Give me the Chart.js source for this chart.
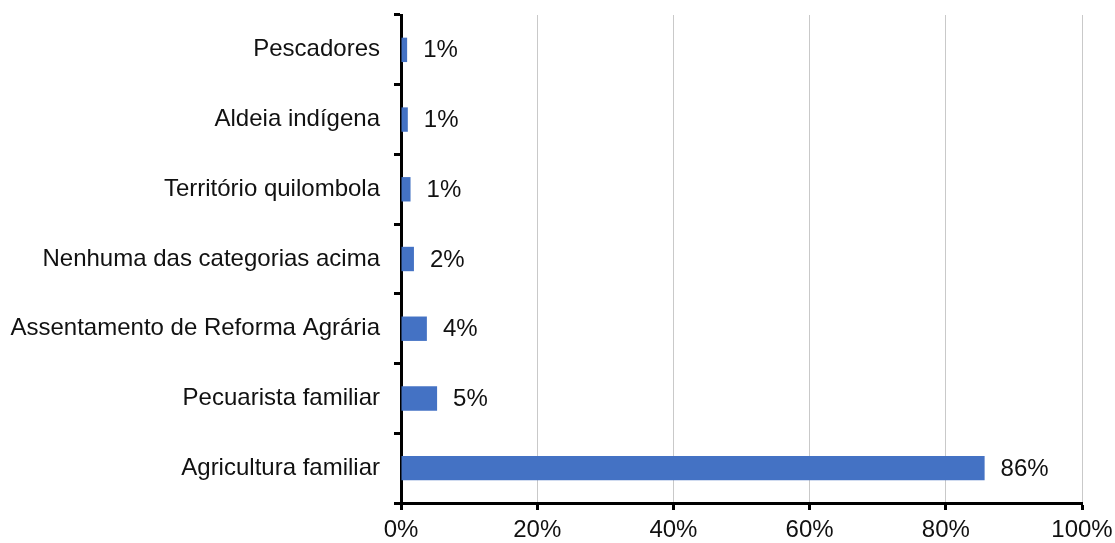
<!DOCTYPE html>
<html>
<head>
<meta charset="utf-8">
<script src="https://cdn.jsdelivr.net/npm/chart.js@4/dist/chart.umd.min.js"></script>
<style>
  html, body { margin: 0; padding: 0; background: #fff; }
  #wrap { width: 1115px; height: 543px; }
</style>
</head>
<body>
<div id="wrap"><canvas id="myChart" width="1115" height="543"></canvas></div>
<script>
// categories top to bottom
var categorias = [
  "Pescadores",
  "Aldeia indígena",
  "Território quilombola",
  "Nenhuma das categorias acima",
  "Assentamento de Reforma Agrária",
  "Pecuarista familiar",
  "Agricultura familiar"
];
var percentuais = [0.9, 1.0, 1.4, 1.9, 3.8, 5.3, 85.7];
var rotulos = ["1%", "1%", "1%", "2%", "4%", "5%", "86%"];
var ticksX = [0, 20, 40, 60, 80, 100];

var fonte = "'Liberation Sans', Arial, sans-serif";

// draws the % label next to each bar
var rotuloPlugin = {
  id: "rotulos",
  afterDatasetsDraw: function(chart) {
    var ctx = chart.ctx;
    var meta = chart.getDatasetMeta(0);
    ctx.save();
    ctx.font = "24px " + fonte;
    ctx.fillStyle = "#111";
    ctx.textBaseline = "middle";
    ctx.textAlign = "left";
    meta.data.forEach(function(bar, i) {
      ctx.fillText(rotulos[i], bar.x + 16, bar.y + 1);
    });
    ctx.restore();
  }
};

var ctx = document.getElementById("myChart");
var myChart = new Chart(ctx, {
  type: "bar",
  data: {
    labels: categorias,
    datasets: [
      {
        data: percentuais,
        backgroundColor: "#4472c4",
        barPercentage: 0.35,
        categoryPercentage: 1.0
      }
    ]
  },
  options: {
    indexAxis: "y",
    responsive: false,
    animation: false,
    layout: { padding: { top: 15, right: 33, left: 0, bottom: 0 } },
    plugins: { legend: { display: false }, tooltip: { enabled: false } },
    scales: {
      x: {
        min: 0,
        max: 100,
        afterBuildTicks: function(scale) {
          scale.ticks = ticksX.map(function(v) { return { value: v }; });
        },
        afterFit: function(scale) {
          scale.height = 40;
          scale.paddingLeft = 0;
          scale.paddingRight = 0;
        },
        grid: {
          color: "#c9c9c9",
          lineWidth: 1,
          tickColor: "#000",
          tickWidth: 3,
          tickLength: 7
        },
        border: { color: "#000", width: 3 },
        ticks: {
          color: "#111",
          font: { family: fonte, size: 24 },
          padding: 6,
          callback: function(v) { return v + "%"; }
        }
      },
      y: {
        afterFit: function(scale) {
          scale.width = 401;
          scale.paddingTop = 0;
          scale.paddingBottom = 0;
        },
        grid: {
          offset: true,
          drawOnChartArea: false,
          tickColor: "#000",
          tickWidth: 3,
          tickLength: 7
        },
        border: { color: "#000", width: 3 },
        ticks: {
          color: "#111",
          font: { family: fonte, size: 24 },
          padding: 14
        }
      }
    }
  },
  plugins: [rotuloPlugin]
});
</script>
</body>
</html>
